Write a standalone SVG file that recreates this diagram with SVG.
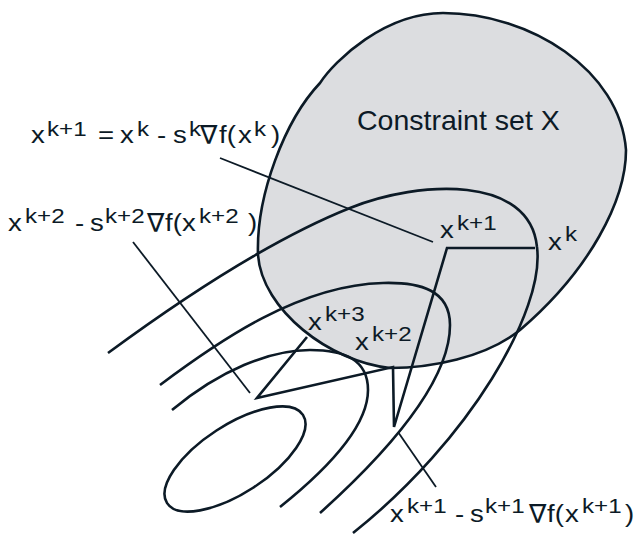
<svg xmlns="http://www.w3.org/2000/svg" width="637" height="535" viewBox="0 0 637 535">
<style>
.c{fill:none;stroke:#0c1a26;stroke-width:2.6;stroke-linecap:butt}
.l{fill:none;stroke:#0c1a26;stroke-width:1.8}
.t{font-family:"Liberation Sans","DejaVu Sans",sans-serif;font-size:24px;fill:#0c1a26}
.s{font-size:21px}
.n{font-family:"DejaVu Sans",sans-serif;font-size:26px;fill:#0c1a26}
</style>
<rect width="637" height="535" fill="#ffffff"/>
<g id="constraint-set">
<path d="M443,13 C530,13 620,70 626,150 C626,200 590,270 520,330 C485,358 430,368 390,368 C330,362 262,310 258,255 C256,195 285,120 320,83 C335,60 385,13 443,13 Z" fill="#dcdde0" stroke="#0c1a26" stroke-width="2.6"/>
<text x="357" y="130" class="t" style="font-size:28.5px">Constraint set X</text>
</g>
<g id="contours">
<ellipse cx="235" cy="459" rx="81" ry="34" transform="rotate(-33 235 459)" class="c"/>
<path d="M172,410 C220,370 270,350 310,350 C345,350 368,360 368,390 C368,430 320,475 280,507" class="c"/>
<path d="M160,385 C220,340 300,285 383,283 C420,282 450,290 450,325 C450,380 390,450 320,513" class="c"/>
<path d="M108,353 C180,300 270,240 350,208 C420,180 530,175 537,247 C545,310 470,440 353,533" class="c"/>
</g>
<g id="connectors">
<polyline points="535,248 447,248 394,427 393,367 257,398 307,337" class="c" stroke-linejoin="miter"/>
<line x1="220" y1="158" x2="433" y2="242" class="l"/>
<line x1="133" y1="242" x2="250" y2="393" class="l"/>
<line x1="398" y1="432" x2="436" y2="487" class="l"/>
</g>
<g id="label-update">
<text class="t" transform="matrix(1.15,0,0,1,0,0)"><tspan x="26.96" y="143">x</tspan><tspan x="40.87" y="136" class="s">k+1</tspan><tspan x="85.22" y="143">=</tspan><tspan x="104.35" y="143">x</tspan><tspan x="119.13" y="136" class="s">k</tspan><tspan x="136.52" y="143">-</tspan><tspan x="150.43" y="143">s</tspan><tspan x="164.35" y="136" class="s">k</tspan><tspan x="190.43" y="143">f(</tspan><tspan x="206.96" y="143">x</tspan><tspan x="220.87" y="136" class="s">k</tspan><tspan x="235.65" y="143">)</tspan></text>
<text class="n" x="200" y="144">∇</text>
</g>
<g id="label-step2">
<text class="t" transform="matrix(1.15,0,0,1,0,0)"><tspan x="6.96" y="231">x</tspan><tspan x="21.74" y="223" class="s">k+2</tspan><tspan x="65.22" y="231">-</tspan><tspan x="78.26" y="231">s</tspan><tspan x="91.30" y="223" class="s">k+2</tspan><tspan x="143.48" y="231">f(</tspan><tspan x="158.26" y="231">x</tspan><tspan x="173.04" y="223" class="s">k+2</tspan><tspan x="215.65" y="231">)</tspan></text>
<text class="n" x="147" y="232">∇</text>
</g>
<g id="label-step1">
<text class="t" transform="matrix(1.15,0,0,1,0,0)"><tspan x="339.13" y="522">x</tspan><tspan x="353.91" y="513" class="s">k+1</tspan><tspan x="395.65" y="522">-</tspan><tspan x="408.70" y="522">s</tspan><tspan x="421.74" y="513" class="s">k+1</tspan><tspan x="475.65" y="522">f(</tspan><tspan x="491.30" y="522">x</tspan><tspan x="506.09" y="513" class="s">k+1</tspan><tspan x="543.48" y="522">)</tspan></text>
<text class="n" x="529" y="523">∇</text>
</g>
<g id="point-labels" transform="matrix(1.15,0,0,1,0,0)">
<text class="t"><tspan x="382.61" y="238">x</tspan><tspan x="397.39" y="230" class="s">k+1</tspan></text>
<text class="t"><tspan x="476.52" y="250">x</tspan><tspan x="491.30" y="241" class="s">k</tspan></text>
<text class="t"><tspan x="267.83" y="330">x</tspan><tspan x="282.61" y="321" class="s">k+3</tspan></text>
<text class="t"><tspan x="308.70" y="350">x</tspan><tspan x="323.48" y="341" class="s">k+2</tspan></text>
</g>
</svg>
